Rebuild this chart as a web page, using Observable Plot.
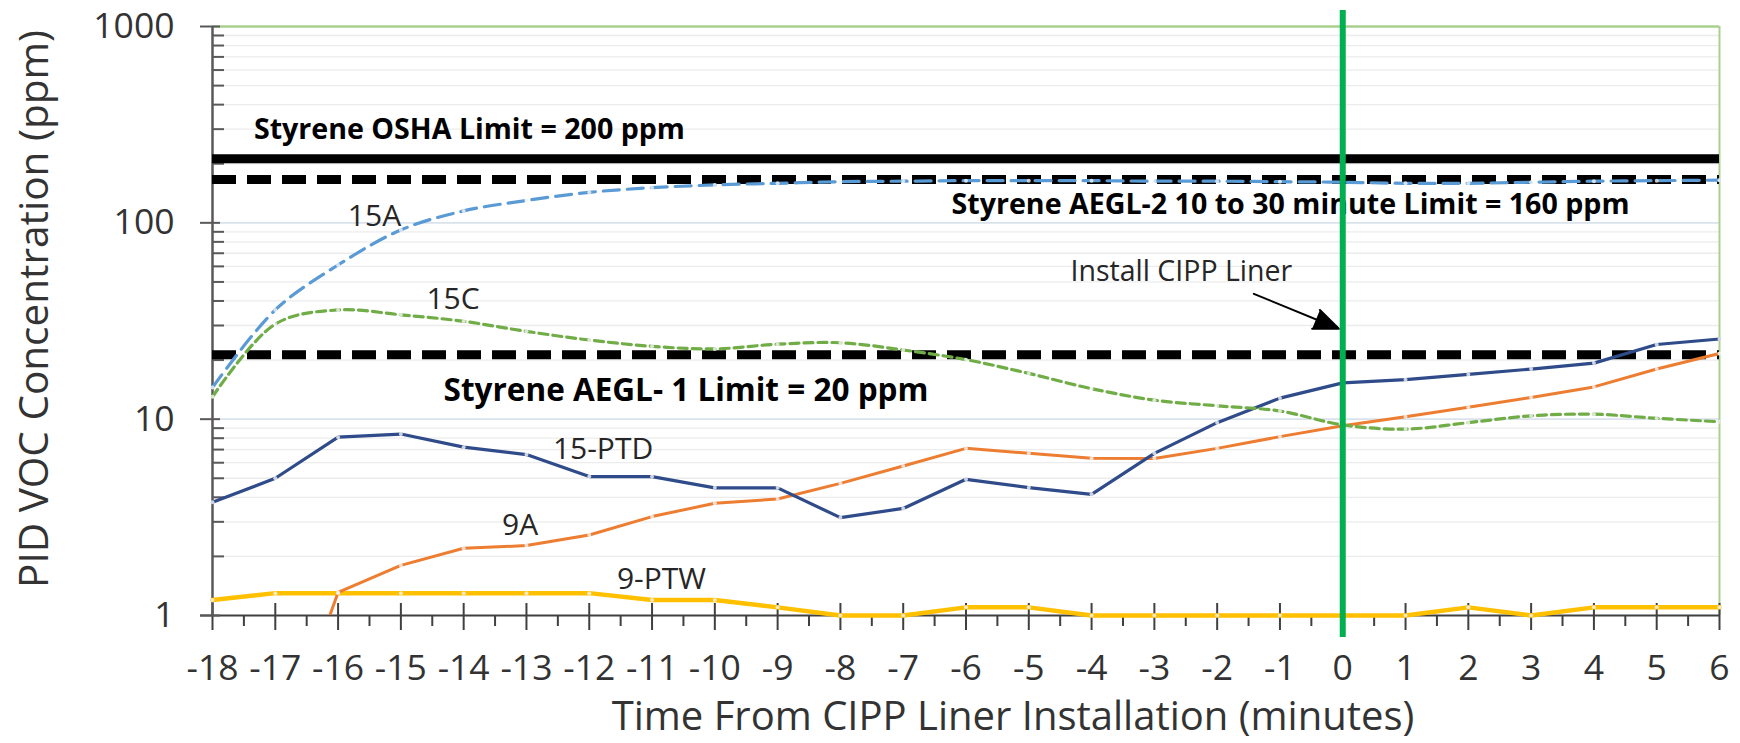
<!DOCTYPE html>
<html>
<head>
<meta charset="utf-8">
<script src="https://cdn.jsdelivr.net/npm/d3@7"></script>
<script src="https://cdn.jsdelivr.net/npm/@observablehq/plot@0.6"></script>
<style>
  html, body { margin: 0; padding: 0; background: #ffffff; }
  #chart svg { display: block; }
</style>
</head>
<body>
<div id="chart"></div>
<script>
// ---------- data ----------
const minutes = [-18,-17,-16,-15,-14,-13,-12,-11,-10,-9,-8,-7,-6,-5,-4,-3,-2,-1,0,1,2,3,4,5,6];

const series15A   = [14.5,36,61,92,115,130,143,151,156,159,162,163,164,164,164,163,163,162,161,159,159,161,163,164,165];
const series15C   = [13,30.5,36,34,31.5,28,25.3,23.5,22.8,24.1,24.5,22.5,20.1,17.1,14.3,12.5,11.7,11.0,9.35,8.9,9.6,10.4,10.6,10.1,9.7];
const series15PTD = [3.77,5.0,8.1,8.4,7.2,6.6,5.1,5.1,4.47,4.47,3.15,3.51,4.94,4.48,4.14,6.7,9.6,12.8,15.3,15.9,16.9,18.0,19.3,24,25.6];
const series9A    = [null,0.17,1.31,1.8,2.2,2.27,2.57,3.19,3.73,3.92,4.71,5.77,7.1,6.7,6.32,6.3,7.1,8.15,9.25,10.3,11.5,12.9,14.6,18.0,21.6];
const series9PTW  = [1.2,1.3,1.3,1.3,1.3,1.3,1.3,1.2,1.2,1.1,1.0,1.0,1.1,1.1,1.0,1.0,1.0,1.0,1.0,1.0,1.1,1.0,1.1,1.1,1.1];

const seriesNames  = ["15A", "15C", "15-PTD", "9A", "9-PTW"];
const seriesColors = ["#5b9bd5", "#70ad47", "#2f4b8a", "#ed7d31", "#ffc000"];

const xTickValues = minutes;
const xTickLabels = ["-18","-17","-16","-15","-14","-13","-12","-11","-10","-9","-8","-7","-6","-5","-4","-3","-2","-1","0","1","2","3","4","5","6"];
const xMinorTicks = [-17.5,-16.5,-15.5,-14.5,-13.5,-12.5,-11.5,-10.5,-9.5,-8.5,-7.5,-6.5,-5.5,-4.5,-3.5,-2.5,-1.5,-0.5,0.5,1.5,2.5,3.5,4.5,5.5];
const yTickValues = [1, 10, 100, 1000];
const yTickLabels = ["1", "10", "100", "1000"];
const yMinorTicks = [2,3,4,5,6,7,8,9,20,30,40,50,60,70,80,90,200,300,400,500,600,700,800,900];

const xTitle = "Time From CIPP Liner Installation (minutes)";
const yTitle = "PID VOC Concentration (ppm)";

// limit lines (level as drawn in the picture)
const limitNames  = ["OSHA", "AEGL-2", "AEGL-1"];
const limitLevels = [212, 166, 21.3];
const limitDashed = [false, true, true];

// bold limit captions
const limitCaptionText  = ["Styrene OSHA Limit = 200 ppm", "Styrene AEGL-2 10 to 30 minute Limit = 160 ppm", "Styrene AEGL- 1 Limit = 20 ppm"];
const limitCaptionX     = [-17.34, -6.23, -14.32];
const limitCaptionY     = [296, 123.7, 13.95];

// series labels
const seriesLabelText = ["15A", "15C", "15-PTD", "9A", "9-PTW"];
const seriesLabelX    = [-15.42, -14.17, -11.78, -13.1, -10.85];
const seriesLabelY    = [107.7, 40.9, 7.01, 2.87, 1.525];

// installation marker
const installMinute = [0];
const installText = "Install CIPP Liner";
const installTextX = -4.335, installTextY = 56.5;
const arrowFrom = {minute: -1.416, ppm: 43.5};
const arrowTo   = {minute: -0.0625, ppm: 28.86};

// ---------- build tables ----------
const allSeries = [series15A, series15C, series15PTD, series9A, series9PTW];
const rowsFor = (k) => minutes.map((m, i) => ({minute: m, ppm: allSeries[k][i], series: seriesNames[k]}))
                              .filter(d => d.ppm != null);
const rows = seriesNames.map((_, k) => rowsFor(k));

const limits = limitNames.map((n, i) => ({name: n, level: limitLevels[i], dashed: limitDashed[i]}));
const limitCaptions = limitCaptionText.map((t, i) => ({text: t, minute: limitCaptionX[i], ppm: limitCaptionY[i]}));
const seriesLabels = seriesLabelText.map((t, i) => ({text: t, minute: seriesLabelX[i], ppm: seriesLabelY[i]}));

const axisColor = "#404040";
const textColor = "#333333";

const chart = Plot.plot({
  width: 1740,
  height: 743,
  marginLeft: 212,
  marginRight: 21,
  marginTop: 26,
  marginBottom: 128,
  style: {fontFamily: "'Open Sans', sans-serif", background: "#ffffff", color: textColor},
  x: {domain: [-18, 6], axis: null},
  y: {type: "log", domain: [1, 1000], axis: null},
  marks: [
    // gridlines
    Plot.ruleY(yMinorTicks, {stroke: "#ececec", strokeWidth: 1.3}),
    Plot.ruleY([10, 100], {stroke: "#dae2ec", strokeWidth: 1.6}),
    // plot-area border (top & right)
    Plot.ruleY([1000], {stroke: "#a9d18e", strokeWidth: 2.5}),
    Plot.ruleX([6], {stroke: "#a9d18e", strokeWidth: 2}),

    // x axis
    Plot.ruleY([1], {stroke: axisColor, strokeWidth: 2, insetLeft: -12}),
    Plot.ruleX(xTickValues, {x: d => d, y1: 1, y2: 1, insetTop: -12, insetBottom: -15, stroke: axisColor, strokeWidth: 2}),
    Plot.ruleX(xMinorTicks, {x: d => d, y1: 1, y2: 1, insetTop: 0, insetBottom: -11, stroke: axisColor, strokeWidth: 2}),
    Plot.text(xTickValues, {x: d => d, y: 1, text: (d, i) => xTickLabels[i], dy: 53, fontSize: 35.5, lineAnchor: "middle", fill: textColor}),

    // y axis
    Plot.ruleX([-18], {stroke: "#595959", strokeWidth: 2.5}),
    Plot.ruleY(yTickValues, {y: d => d, x1: -18, x2: -18, insetLeft: -12, insetRight: -8, stroke: "#595959", strokeWidth: 2}),
    Plot.ruleY(yMinorTicks, {y: d => d, x1: -18, x2: -18, insetLeft: 0, insetRight: -12, stroke: "#595959", strokeWidth: 2}),
    Plot.text(yTickValues, {x: -18, y: d => d, text: (d, i) => yTickLabels[i], textAnchor: "end", dx: -38, fontSize: 35.5, lineAnchor: "middle", fill: textColor}),

    // axis titles
    Plot.text([xTitle], {frameAnchor: "bottom", text: d => d, textAnchor: "middle", dx: 47, dy: 102, fontSize: 40, lineAnchor: "middle", fill: textColor}),
    Plot.text([yTitle], {frameAnchor: "left", text: d => d, textAnchor: "middle", rotate: -90, dx: -177, dy: -12, fontSize: 40.5, lineAnchor: "middle", fill: textColor}),

    // limit lines
    Plot.ruleY(limits.filter(d => !d.dashed), {y: "level", stroke: "#000", strokeWidth: 9}),
    Plot.ruleY(limits.filter(d => d.dashed), {y: "level", stroke: "#000", strokeWidth: 9, strokeDasharray: "24,11"}),

    // series
    Plot.line(rows[4], {x: "minute", y: "ppm", stroke: seriesColors[4], strokeWidth: 4.5}),
    Plot.line(rows[3], {x: "minute", y: "ppm", stroke: seriesColors[3], strokeWidth: 3, clip: true}),
    Plot.line(rows[2], {x: "minute", y: "ppm", stroke: seriesColors[2], strokeWidth: 3.2}),
    Plot.line(rows[1], {x: "minute", y: "ppm", stroke: seriesColors[1], strokeWidth: 3.2, strokeDasharray: "9,5", curve: "catmull-rom"}),
    Plot.line(rows[0], {x: "minute", y: "ppm", stroke: seriesColors[0], strokeWidth: 3.2, strokeDasharray: "16,8", curve: "catmull-rom"}),
    Plot.dot(rows.flat().filter(d => d.ppm >= 1), {x: "minute", y: "ppm", r: 2, fill: "#f4f4f4", fillOpacity: 0.8}),

    // captions
    Plot.text(limitCaptions, {x: "minute", y: "ppm", text: "text", textAnchor: "start", lineAnchor: "middle",
      fontWeight: 700, fill: "#000", fontSize: (d, i) => i === 2 ? 31.5 : 28.6}),
    Plot.text(seriesLabels, {x: "minute", y: "ppm", text: "text", lineAnchor: "middle", fontSize: 30, fill: "#262626"}),
    Plot.text([installText], {x: installTextX, y: installTextY, text: d => d, textAnchor: "start", lineAnchor: "middle", fontSize: 28.5, fill: "#262626"}),
    Plot.arrow([{a: arrowFrom, b: arrowTo}], {x1: d => d.a.minute, y1: d => d.a.ppm, x2: d => d.b.minute, y2: d => d.b.ppm,
      stroke: "#000", fill: "#000", strokeWidth: 2, headLength: 20, headAngle: 45, strokeLinejoin: "miter"}),

    // installation rule
    Plot.ruleX(installMinute, {stroke: "#00b050", strokeWidth: 6, insetTop: -16, insetBottom: -22})
  ]
});

document.getElementById("chart").appendChild(chart);
</script>
</body>
</html>
